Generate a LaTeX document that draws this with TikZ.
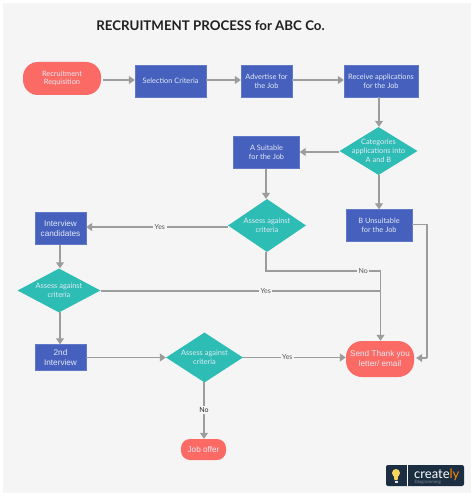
\documentclass[tikz,border=0pt]{standalone}
\usepackage{fontspec}
\setmainfont{Lato}
\newfontfamily\arialf{Liberation Sans}
\usetikzlibrary{shapes.geometric,arrows.meta,calc}
\definecolor{bgc}{HTML}{F5F5F6}
\definecolor{blu}{HTML}{4560BD}
\definecolor{tea}{HTML}{2DBDB4}
\definecolor{cor}{HTML}{FB6A64}
\definecolor{lin}{HTML}{9C9C9C}
\definecolor{navy}{HTML}{1C2F42}
\definecolor{wtxt}{HTML}{E4EAF6}
\definecolor{bulb}{HTML}{F6D55C}
\tikzset{
 x=1pt,y=-1pt,
 base/.style={inner sep=0pt,align=center,text=wtxt,font=\fontsize{7.4}{8.7}\selectfont,anchor=center},
 procbox/.style={base,rectangle,fill=blu,draw=blu!85!white,line width=.4pt},
 decbox/.style={diamond,fill=tea,inner sep=0pt,anchor=center},
 termbox/.style={base,rectangle,rounded corners=15pt,fill=cor},
 conn/.style={draw=lin,line width=1.1pt,-{Triangle[length=6pt,width=8pt,fill=lin]}},
 plain/.style={draw=lin,line width=1.1pt},
 lab/.style={fill=bgc,inner sep=1.5pt,text=black!65,font=\fontsize{7}{8}\selectfont},
 arialtxt/.style={font=\arialf\fontsize{8.2}{10}\selectfont},
}
\newcommand{\bx}[7][]{\node[#2,#1,minimum width=#5pt,minimum height=#6pt] (#3) at #4 {#7};}
\newcommand{\dm}[5]{\node[decbox,minimum width=#3pt,minimum height=#4pt] (#1) at #2 {};\node[base] (#1t) at #2 {#5};}
\begin{document}
\begin{tikzpicture}
\useasboundingbox (0,0) rectangle (474,497);
\fill[white] (0,0) rectangle (474,497);
\fill[bgc] (3,3) rectangle (471,493);
\node[font=\fontsize{13.3}{15}\selectfont\bfseries,text=black!88,inner sep=0pt] (title) at (210.5,26) {RECRUITMENT PROCESS for ABC Co.};
\bx{termbox}{req}{(62,78.5)}{78}{33}{Recruitment\\Requisition}
\bx{procbox}{sel}{(170.5,81)}{71}{32}{Selection Criteria}
\bx{procbox}{adv}{(266.5,81)}{51}{32}{Advertise for\\the Job}
\bx{procbox}{rec}{(381,81)}{74}{32}{Receive applications\\for the Job}
\dm{cat}{(378.5,151)}{78}{48}{Categories\\applications into\\A and B}
\bx{procbox}{asu}{(266.5,152.5)}{66}{32}{A Suitable\\for the Job}
\dm{as1}{(267,225.5)}{78}{53}{Assess against\\criteria}
\bx{procbox}{bun}{(379,225.5)}{66}{32}{B Unsuitable\\for the Job}
\bx[arialtxt]{procbox}{int}{(60.5,228.5)}{51}{32}{Interview\\candidates}
\dm{as2}{(59,290.5)}{83}{44}{Assess against\\criteria}
\bx[arialtxt]{procbox}{sec}{(60.5,357.5)}{51}{26}{2nd\\Interview}
\dm{as3}{(204.5,357.5)}{77}{50}{Assess against\\criteria}
\bx[arialtxt,rounded corners=16pt]{termbox}{snd}{(380,359)}{68}{36}{Send Thank you\\letter/ email}
\bx[arialtxt,rounded corners=9pt]{termbox}{job}{(203.5,449.5)}{45}{21}{Job offer}

\coordinate (r1) at (103,80);
\draw[conn] (r1) -- (r1-|sel.west);
\coordinate (s1) at (sel.east|-r1);
\draw[conn] (s1) -- (s1-|adv.west);
\coordinate (a1) at (adv.east|-r1);
\draw[conn] (a1) -- (a1-|rec.west);
\coordinate (rb) at (379,97.5);
\draw[conn] (rb) -- (rb|-cat.north);
\coordinate (cl) at (cat.west|-0,152);
\draw[conn] (cl) -- (cl-|asu.east);
\coordinate (cb) at (379,175);
\draw[conn] (cb) -- (cb|-bun.north);
\coordinate (a0) at (266,169);
\draw[conn] (a0) -- (a0|-as1.north);
\coordinate (a2) at (as1.west|-0,227);
\draw[conn] (a2) -- node[lab,pos=.48] (y1) {Yes} (a2-|int.east);
\coordinate (i0) at (60,245);
\draw[conn] (i0) -- (i0|-as2.north);
\coordinate (i1) at (60,312);
\draw[conn] (i1) -- (i1|-sec.north);
\coordinate (j1) at (380.5,291);
\draw[plain] (j1-|as2.east) -- node[lab,pos=.59] (y2) {Yes} (j1);
\coordinate (n1) at (266,271);
\draw[plain] (n1|-as1.south) -- (n1) -- node[lab,pos=.85] (n2) {No} (n1-|j1) coordinate (n3);
\draw[conn] (n3) -- (j1|-snd.north);
\draw[conn] (sec.east) -- (as3.west);
\coordinate (e3) at (as3.east);
\draw[conn] (e3) -- node[lab,pos=.43] (y3) {Yes} (e3-|snd.west);
\coordinate (br) at (bun.east|-0,224.5);
\coordinate (bc) at (427,224.5);
\coordinate (sc) at (427,358);
\draw[plain] (br) -- (bc) -- (sc);
\draw[conn] (sc) -- ($(sc-|snd.east)+(2,0)$);
\coordinate (d3) at (204,382);
\draw[conn] (d3) -- node[lab,pos=.5,text=black!85] (n4) {No} (d3|-job.north);

% logo
\fill[navy,rounded corners=2pt] (386,465) rectangle (464,486);
\draw[white,line width=.6pt] (407.5,465) -- (407.5,486);
\fill[bulb] (396,473) circle (4pt);
\fill[bulb] (393.6,474) -- (398.4,474) -- (397.6,480) -- (394.4,480) -- cycle;
\fill[white!80!gray] (394.5,480.5) rectangle (397.5,483);
\node[inner sep=0pt,anchor=base west,text=white,font=\fontsize{13}{13}\selectfont] (lg) at (414,478) {create\textcolor{orange!90!yellow}{ly}};
\node[inner sep=0pt,anchor=base west,text=white!45!navy,font=\fontsize{4.5}{5}\selectfont] (lg2) at (414.5,483.5) {Diagramming};
\end{tikzpicture}
\end{document}
